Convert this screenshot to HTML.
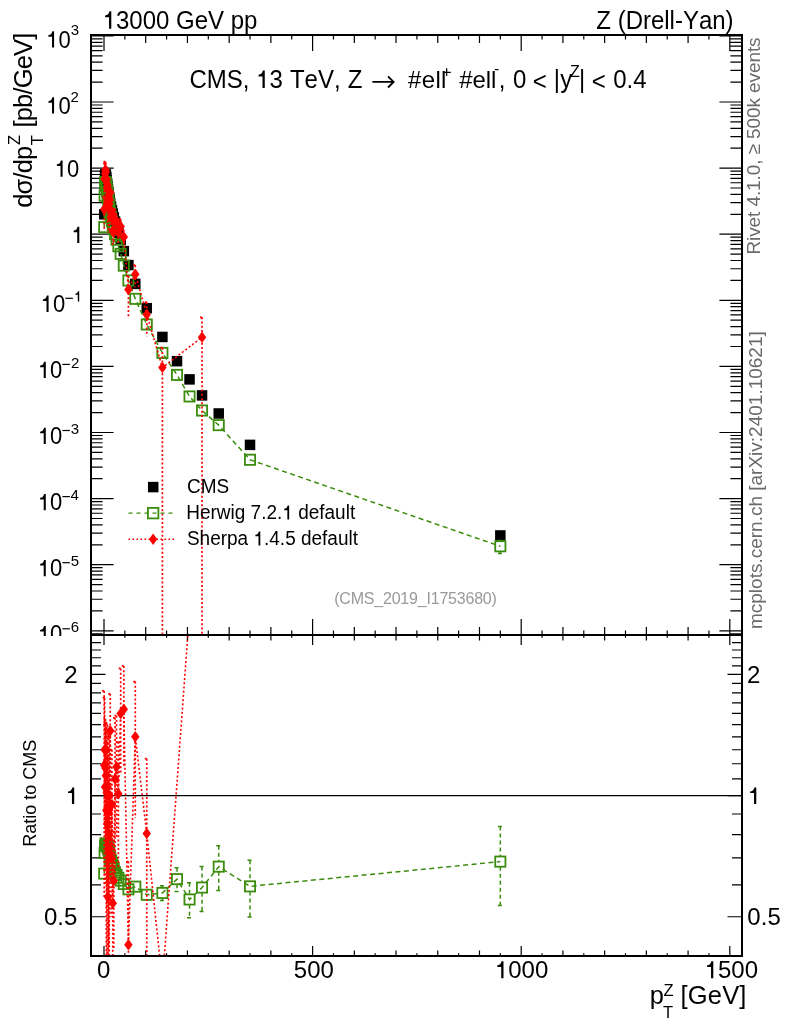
<!DOCTYPE html><html><head><meta charset="utf-8"><style>html,body{margin:0;padding:0;background:#fff;}svg{display:block;will-change:transform;} text{white-space:pre;font-kerning:none;font-feature-settings:"kern" 0;}</style></head><body>
<svg xml:space="preserve" width="786" height="1024" viewBox="0 0 786 1024" font-family="Liberation Sans, sans-serif">
<rect width="786" height="1024" fill="#fff"/>
<defs><clipPath id="cm"><rect x="91" y="34.9" width="651" height="600.1"/></clipPath>
<clipPath id="lab"><rect x="0" y="0" width="90" height="636"/></clipPath>
<clipPath id="cr"><rect x="91" y="635" width="651" height="320.95"/></clipPath></defs>
<path d="M91 633.82h11.6M742 633.82h-11.6M91 630.8h22.6M742 630.8h-22.6M91 610.9h11.6M742 610.9h-11.6M91 599.26h11.6M742 599.26h-11.6M91 591h11.6M742 591h-11.6M91 584.6h11.6M742 584.6h-11.6M91 579.36h11.6M742 579.36h-11.6M91 574.94h11.6M742 574.94h-11.6M91 571.11h11.6M742 571.11h-11.6M91 567.72h11.6M742 567.72h-11.6M91 564.7h22.6M742 564.7h-22.6M91 544.8h11.6M742 544.8h-11.6M91 533.16h11.6M742 533.16h-11.6M91 524.9h11.6M742 524.9h-11.6M91 518.5h11.6M742 518.5h-11.6M91 513.26h11.6M742 513.26h-11.6M91 508.84h11.6M742 508.84h-11.6M91 505.01h11.6M742 505.01h-11.6M91 501.62h11.6M742 501.62h-11.6M91 498.6h22.6M742 498.6h-22.6M91 478.7h11.6M742 478.7h-11.6M91 467.06h11.6M742 467.06h-11.6M91 458.8h11.6M742 458.8h-11.6M91 452.4h11.6M742 452.4h-11.6M91 447.16h11.6M742 447.16h-11.6M91 442.74h11.6M742 442.74h-11.6M91 438.91h11.6M742 438.91h-11.6M91 435.52h11.6M742 435.52h-11.6M91 432.5h22.6M742 432.5h-22.6M91 412.6h11.6M742 412.6h-11.6M91 400.96h11.6M742 400.96h-11.6M91 392.7h11.6M742 392.7h-11.6M91 386.3h11.6M742 386.3h-11.6M91 381.06h11.6M742 381.06h-11.6M91 376.64h11.6M742 376.64h-11.6M91 372.81h11.6M742 372.81h-11.6M91 369.42h11.6M742 369.42h-11.6M91 366.4h22.6M742 366.4h-22.6M91 346.5h11.6M742 346.5h-11.6M91 334.86h11.6M742 334.86h-11.6M91 326.6h11.6M742 326.6h-11.6M91 320.2h11.6M742 320.2h-11.6M91 314.96h11.6M742 314.96h-11.6M91 310.54h11.6M742 310.54h-11.6M91 306.71h11.6M742 306.71h-11.6M91 303.32h11.6M742 303.32h-11.6M91 300.3h22.6M742 300.3h-22.6M91 280.4h11.6M742 280.4h-11.6M91 268.76h11.6M742 268.76h-11.6M91 260.5h11.6M742 260.5h-11.6M91 254.1h11.6M742 254.1h-11.6M91 248.86h11.6M742 248.86h-11.6M91 244.44h11.6M742 244.44h-11.6M91 240.61h11.6M742 240.61h-11.6M91 237.22h11.6M742 237.22h-11.6M91 234.2h22.6M742 234.2h-22.6M91 214.3h11.6M742 214.3h-11.6M91 202.66h11.6M742 202.66h-11.6M91 194.4h11.6M742 194.4h-11.6M91 188h11.6M742 188h-11.6M91 182.76h11.6M742 182.76h-11.6M91 178.34h11.6M742 178.34h-11.6M91 174.51h11.6M742 174.51h-11.6M91 171.12h11.6M742 171.12h-11.6M91 168.1h22.6M742 168.1h-22.6M91 148.2h11.6M742 148.2h-11.6M91 136.56h11.6M742 136.56h-11.6M91 128.3h11.6M742 128.3h-11.6M91 121.9h11.6M742 121.9h-11.6M91 116.66h11.6M742 116.66h-11.6M91 112.24h11.6M742 112.24h-11.6M91 108.41h11.6M742 108.41h-11.6M91 105.02h11.6M742 105.02h-11.6M91 102h22.6M742 102h-22.6M91 82.1h11.6M742 82.1h-11.6M91 70.46h11.6M742 70.46h-11.6M91 62.2h11.6M742 62.2h-11.6M91 55.8h11.6M742 55.8h-11.6M91 50.56h11.6M742 50.56h-11.6M91 46.14h11.6M742 46.14h-11.6M91 42.31h11.6M742 42.31h-11.6M91 38.92h11.6M742 38.92h-11.6M91 35.9h22.6M742 35.9h-22.6M91 955.77h10M742 955.77h-10M91 916.76h14.5M742 916.76h-14.5M91 884.89h10M742 884.89h-10M91 857.95h10M742 857.95h-10M91 834.61h10M742 834.61h-10M91 814.02h10M742 814.02h-10M91 795.6h14.5M742 795.6h-14.5M91 778.94h10M742 778.94h-10M91 763.73h10M742 763.73h-10M91 749.74h10M742 749.74h-10M91 736.78h10M742 736.78h-10M91 724.72h10M742 724.72h-10M91 713.44h10M742 713.44h-10M91 702.84h10M742 702.84h-10M91 692.85h10M742 692.85h-10M91 683.4h10M742 683.4h-10M91 674.44h14.5M742 674.44h-14.5M91 665.91h10M742 665.91h-10M91 657.77h10M742 657.77h-10M91 650h10M742 650h-10M91 642.56h10M742 642.56h-10M91 635.43h10M742 635.43h-10M104 34.9v16M104 635v-16M104 635v10M104 955.95v-10M124.86 34.9v4.5M124.86 635v-4.5M124.86 635v2.8M124.86 955.95v-2.8M145.72 34.9v8M145.72 635v-8M145.72 635v5.5M145.72 955.95v-5.5M166.58 34.9v4.5M166.58 635v-4.5M166.58 635v2.8M166.58 955.95v-2.8M187.44 34.9v8M187.44 635v-8M187.44 635v5.5M187.44 955.95v-5.5M208.3 34.9v4.5M208.3 635v-4.5M208.3 635v2.8M208.3 955.95v-2.8M229.16 34.9v8M229.16 635v-8M229.16 635v5.5M229.16 955.95v-5.5M250.02 34.9v4.5M250.02 635v-4.5M250.02 635v2.8M250.02 955.95v-2.8M270.88 34.9v8M270.88 635v-8M270.88 635v5.5M270.88 955.95v-5.5M291.74 34.9v4.5M291.74 635v-4.5M291.74 635v2.8M291.74 955.95v-2.8M312.6 34.9v16M312.6 635v-16M312.6 635v10M312.6 955.95v-10M333.46 34.9v4.5M333.46 635v-4.5M333.46 635v2.8M333.46 955.95v-2.8M354.32 34.9v8M354.32 635v-8M354.32 635v5.5M354.32 955.95v-5.5M375.18 34.9v4.5M375.18 635v-4.5M375.18 635v2.8M375.18 955.95v-2.8M396.04 34.9v8M396.04 635v-8M396.04 635v5.5M396.04 955.95v-5.5M416.9 34.9v4.5M416.9 635v-4.5M416.9 635v2.8M416.9 955.95v-2.8M437.76 34.9v8M437.76 635v-8M437.76 635v5.5M437.76 955.95v-5.5M458.62 34.9v4.5M458.62 635v-4.5M458.62 635v2.8M458.62 955.95v-2.8M479.48 34.9v8M479.48 635v-8M479.48 635v5.5M479.48 955.95v-5.5M500.34 34.9v4.5M500.34 635v-4.5M500.34 635v2.8M500.34 955.95v-2.8M521.2 34.9v16M521.2 635v-16M521.2 635v10M521.2 955.95v-10M542.06 34.9v4.5M542.06 635v-4.5M542.06 635v2.8M542.06 955.95v-2.8M562.92 34.9v8M562.92 635v-8M562.92 635v5.5M562.92 955.95v-5.5M583.78 34.9v4.5M583.78 635v-4.5M583.78 635v2.8M583.78 955.95v-2.8M604.64 34.9v8M604.64 635v-8M604.64 635v5.5M604.64 955.95v-5.5M625.5 34.9v4.5M625.5 635v-4.5M625.5 635v2.8M625.5 955.95v-2.8M646.36 34.9v8M646.36 635v-8M646.36 635v5.5M646.36 955.95v-5.5M667.22 34.9v4.5M667.22 635v-4.5M667.22 635v2.8M667.22 955.95v-2.8M688.08 34.9v8M688.08 635v-8M688.08 635v5.5M688.08 955.95v-5.5M708.94 34.9v4.5M708.94 635v-4.5M708.94 635v2.8M708.94 955.95v-2.8M729.8 34.9v16M729.8 635v-16M729.8 635v10M729.8 955.95v-10" stroke="#000" stroke-width="1.2" fill="none"/>
<g clip-path="url(#cm)">
<rect x="98.96" y="209.05" width="10.5" height="10.5" fill="#000"/>
<rect x="99.38" y="181.08" width="10.5" height="10.5" fill="#000"/>
<rect x="99.79" y="169.98" width="10.5" height="10.5" fill="#000"/>
<rect x="100.21" y="168.9" width="10.5" height="10.5" fill="#000"/>
<rect x="100.63" y="169.62" width="10.5" height="10.5" fill="#000"/>
<rect x="101.04" y="171.88" width="10.5" height="10.5" fill="#000"/>
<rect x="101.46" y="174.78" width="10.5" height="10.5" fill="#000"/>
<rect x="101.88" y="178" width="10.5" height="10.5" fill="#000"/>
<rect x="102.3" y="181.08" width="10.5" height="10.5" fill="#000"/>
<rect x="102.71" y="183.92" width="10.5" height="10.5" fill="#000"/>
<rect x="103.13" y="186.75" width="10.5" height="10.5" fill="#000"/>
<rect x="103.55" y="189.51" width="10.5" height="10.5" fill="#000"/>
<rect x="103.97" y="192.18" width="10.5" height="10.5" fill="#000"/>
<rect x="104.38" y="194.68" width="10.5" height="10.5" fill="#000"/>
<rect x="105.01" y="197.89" width="10.5" height="10.5" fill="#000"/>
<rect x="105.84" y="201.52" width="10.5" height="10.5" fill="#000"/>
<rect x="106.68" y="205.04" width="10.5" height="10.5" fill="#000"/>
<rect x="107.51" y="208.34" width="10.5" height="10.5" fill="#000"/>
<rect x="108.55" y="212.08" width="10.5" height="10.5" fill="#000"/>
<rect x="109.81" y="216.37" width="10.5" height="10.5" fill="#000"/>
<rect x="111.27" y="221.42" width="10.5" height="10.5" fill="#000"/>
<rect x="113.14" y="227.55" width="10.5" height="10.5" fill="#000"/>
<rect x="115.44" y="234.65" width="10.5" height="10.5" fill="#000"/>
<rect x="118.57" y="245.85" width="10.5" height="10.5" fill="#000"/>
<rect x="123.16" y="259.83" width="10.5" height="10.5" fill="#000"/>
<rect x="130.04" y="278.66" width="10.5" height="10.5" fill="#000"/>
<rect x="141.51" y="302.93" width="10.5" height="10.5" fill="#000"/>
<rect x="157.16" y="331.7" width="10.5" height="10.5" fill="#000"/>
<rect x="171.76" y="355.92" width="10.5" height="10.5" fill="#000"/>
<rect x="184.28" y="374.14" width="10.5" height="10.5" fill="#000"/>
<rect x="196.79" y="390.16" width="10.5" height="10.5" fill="#000"/>
<rect x="213.48" y="408.23" width="10.5" height="10.5" fill="#000"/>
<rect x="244.77" y="439.62" width="10.5" height="10.5" fill="#000"/>
<rect x="495.09" y="530.2" width="10.5" height="10.5" fill="#000"/>
<polyline points="104.21,227.11 104.63,195.76 105.04,183.49 105.46,182.03 105.88,182.75 106.29,185.2 106.71,188.29 107.13,191.51 107.55,194.78 107.96,197.81 108.38,200.83 108.8,203.8 109.22,206.86 109.63,209.76 110.26,213.38 111.09,217.42 111.93,221.36 112.76,225.09 113.8,229.25 115.06,234.21 116.52,239.71 118.39,246.29 120.69,253.85 123.82,265.62 128.41,280.48 135.29,298.86 146.76,324.47 162.41,352.93 177.01,374.89 189.53,396.45 202.04,410.51 218.73,425.14 250.02,459.77 500.34,546.29" fill="none" stroke="#3a8c0c" stroke-width="1.5" stroke-dasharray="5,3.5"/>
<path d="M500.34 540.53V541.09M500.34 551.49V553.52M497.84 540.53h5M497.84 553.52h5" stroke="#3a8c0c" stroke-width="1.5" stroke-dasharray="4,3" fill="none"/>
<rect x="99.11" y="222.01" width="10.2" height="10.2" fill="none" stroke="#3a8c0c" stroke-width="1.8"/>
<rect x="99.53" y="190.66" width="10.2" height="10.2" fill="none" stroke="#3a8c0c" stroke-width="1.8"/>
<rect x="99.94" y="178.39" width="10.2" height="10.2" fill="none" stroke="#3a8c0c" stroke-width="1.8"/>
<rect x="100.36" y="176.93" width="10.2" height="10.2" fill="none" stroke="#3a8c0c" stroke-width="1.8"/>
<rect x="100.78" y="177.65" width="10.2" height="10.2" fill="none" stroke="#3a8c0c" stroke-width="1.8"/>
<rect x="101.19" y="180.1" width="10.2" height="10.2" fill="none" stroke="#3a8c0c" stroke-width="1.8"/>
<rect x="101.61" y="183.19" width="10.2" height="10.2" fill="none" stroke="#3a8c0c" stroke-width="1.8"/>
<rect x="102.03" y="186.41" width="10.2" height="10.2" fill="none" stroke="#3a8c0c" stroke-width="1.8"/>
<rect x="102.45" y="189.68" width="10.2" height="10.2" fill="none" stroke="#3a8c0c" stroke-width="1.8"/>
<rect x="102.86" y="192.71" width="10.2" height="10.2" fill="none" stroke="#3a8c0c" stroke-width="1.8"/>
<rect x="103.28" y="195.73" width="10.2" height="10.2" fill="none" stroke="#3a8c0c" stroke-width="1.8"/>
<rect x="103.7" y="198.7" width="10.2" height="10.2" fill="none" stroke="#3a8c0c" stroke-width="1.8"/>
<rect x="104.12" y="201.76" width="10.2" height="10.2" fill="none" stroke="#3a8c0c" stroke-width="1.8"/>
<rect x="104.53" y="204.66" width="10.2" height="10.2" fill="none" stroke="#3a8c0c" stroke-width="1.8"/>
<rect x="105.16" y="208.28" width="10.2" height="10.2" fill="none" stroke="#3a8c0c" stroke-width="1.8"/>
<rect x="105.99" y="212.32" width="10.2" height="10.2" fill="none" stroke="#3a8c0c" stroke-width="1.8"/>
<rect x="106.83" y="216.26" width="10.2" height="10.2" fill="none" stroke="#3a8c0c" stroke-width="1.8"/>
<rect x="107.66" y="219.99" width="10.2" height="10.2" fill="none" stroke="#3a8c0c" stroke-width="1.8"/>
<rect x="108.7" y="224.15" width="10.2" height="10.2" fill="none" stroke="#3a8c0c" stroke-width="1.8"/>
<rect x="109.96" y="229.11" width="10.2" height="10.2" fill="none" stroke="#3a8c0c" stroke-width="1.8"/>
<rect x="111.42" y="234.61" width="10.2" height="10.2" fill="none" stroke="#3a8c0c" stroke-width="1.8"/>
<rect x="113.29" y="241.19" width="10.2" height="10.2" fill="none" stroke="#3a8c0c" stroke-width="1.8"/>
<rect x="115.59" y="248.75" width="10.2" height="10.2" fill="none" stroke="#3a8c0c" stroke-width="1.8"/>
<rect x="118.72" y="260.52" width="10.2" height="10.2" fill="none" stroke="#3a8c0c" stroke-width="1.8"/>
<rect x="123.31" y="275.38" width="10.2" height="10.2" fill="none" stroke="#3a8c0c" stroke-width="1.8"/>
<rect x="130.19" y="293.76" width="10.2" height="10.2" fill="none" stroke="#3a8c0c" stroke-width="1.8"/>
<rect x="141.66" y="319.37" width="10.2" height="10.2" fill="none" stroke="#3a8c0c" stroke-width="1.8"/>
<rect x="157.31" y="347.83" width="10.2" height="10.2" fill="none" stroke="#3a8c0c" stroke-width="1.8"/>
<rect x="171.91" y="369.79" width="10.2" height="10.2" fill="none" stroke="#3a8c0c" stroke-width="1.8"/>
<rect x="184.43" y="391.35" width="10.2" height="10.2" fill="none" stroke="#3a8c0c" stroke-width="1.8"/>
<rect x="196.94" y="405.41" width="10.2" height="10.2" fill="none" stroke="#3a8c0c" stroke-width="1.8"/>
<rect x="213.63" y="420.04" width="10.2" height="10.2" fill="none" stroke="#3a8c0c" stroke-width="1.8"/>
<rect x="244.92" y="454.67" width="10.2" height="10.2" fill="none" stroke="#3a8c0c" stroke-width="1.8"/>
<rect x="495.24" y="541.19" width="10.2" height="10.2" fill="none" stroke="#3a8c0c" stroke-width="1.8"/>
<polyline points="104.21,209.31 104.63,178.79 105.04,173.83 105.46,169.64 105.88,171.61 106.29,179.53 106.71,179.46 107.13,187.91 107.55,184.92 107.96,205.81 108.38,200.64 108.8,197.16 109.22,203.83 109.63,199.93 110.26,192.48 111.09,217.01 111.93,211.76 112.76,231.28 113.8,231.28 115.06,218.88 116.52,221.92 118.39,232.51 120.69,226.4 123.82,236.9 128.41,289.58 135.29,274.25 146.76,314.41 162.41,367.58 202.04,337.19" fill="none" stroke="#ff0000" stroke-width="1.6" stroke-dasharray="2,2.25"/>
<path d="M104.21 197.11V230.95M102.21 197.11h4M104.63 170.26V190.99M102.63 170.26h4M105.04 163.59V189.9M103.04 163.59h4M105.46 161.57V180.92M103.46 161.57h4M105.88 162.85V184.3M103.88 162.85h4M106.29 166.07V205.68M104.29 166.07h4M106.71 168.01V198.8M104.71 168.01h4M107.13 174.63V213.38M105.13 174.63h4M107.55 174.69V200.99M105.55 174.69h4M107.96 195.22V222.79M105.96 195.22h4M108.38 185.82V232.96M106.38 185.82h4M108.8 184.7V219.67M106.8 184.7h4M109.22 189.9V231.99M107.22 189.9h4M109.63 190.27V214.59M107.63 190.27h4M110.26 186.43V200.15M108.26 186.43h4M111.09 209.79V226.67M109.09 209.79h4M111.93 202.76V224.95M109.93 202.76h4M112.76 221.47V246.3M110.76 221.47h4M113.8 223.2V242.57M111.8 223.2h4M115.06 208.85V234.43M113.06 208.85h4M116.52 213.54V233.8M114.52 213.54h4M118.39 223.97V244.73M116.39 223.97h4M120.69 219.01V236.39M118.69 219.01h4M123.82 229.8V246.35M121.82 229.8h4M128.41 275.9V316.64M126.41 275.9h4M135.29 265.18V287.58M133.29 265.18h4M146.76 302.12V336.33M144.76 302.12h4M162.41 347.68V640M160.41 347.68h4M202.04 317.29V640M200.04 317.29h4" stroke="#ff0000" stroke-width="1.7" stroke-dasharray="2,2.25" fill="none"/>
<path d="M104.21 203.56L108.41 209.31L104.21 215.06L100.01 209.31Z" fill="#ff0000"/>
<path d="M104.63 173.04L108.83 178.79L104.63 184.54L100.43 178.79Z" fill="#ff0000"/>
<path d="M105.04 168.08L109.24 173.83L105.04 179.58L100.84 173.83Z" fill="#ff0000"/>
<path d="M105.46 163.89L109.66 169.64L105.46 175.39L101.26 169.64Z" fill="#ff0000"/>
<path d="M105.88 165.86L110.08 171.61L105.88 177.36L101.68 171.61Z" fill="#ff0000"/>
<path d="M106.29 173.78L110.49 179.53L106.29 185.28L102.09 179.53Z" fill="#ff0000"/>
<path d="M106.71 173.71L110.91 179.46L106.71 185.21L102.51 179.46Z" fill="#ff0000"/>
<path d="M107.13 182.16L111.33 187.91L107.13 193.66L102.93 187.91Z" fill="#ff0000"/>
<path d="M107.55 179.17L111.75 184.92L107.55 190.67L103.35 184.92Z" fill="#ff0000"/>
<path d="M107.96 200.06L112.16 205.81L107.96 211.56L103.76 205.81Z" fill="#ff0000"/>
<path d="M108.38 194.89L112.58 200.64L108.38 206.39L104.18 200.64Z" fill="#ff0000"/>
<path d="M108.8 191.41L113 197.16L108.8 202.91L104.6 197.16Z" fill="#ff0000"/>
<path d="M109.22 198.08L113.42 203.83L109.22 209.58L105.02 203.83Z" fill="#ff0000"/>
<path d="M109.63 194.18L113.83 199.93L109.63 205.68L105.43 199.93Z" fill="#ff0000"/>
<path d="M110.26 186.73L114.46 192.48L110.26 198.23L106.06 192.48Z" fill="#ff0000"/>
<path d="M111.09 211.26L115.29 217.01L111.09 222.76L106.89 217.01Z" fill="#ff0000"/>
<path d="M111.93 206.01L116.13 211.76L111.93 217.51L107.73 211.76Z" fill="#ff0000"/>
<path d="M112.76 225.53L116.96 231.28L112.76 237.03L108.56 231.28Z" fill="#ff0000"/>
<path d="M113.8 225.53L118 231.28L113.8 237.03L109.6 231.28Z" fill="#ff0000"/>
<path d="M115.06 213.13L119.26 218.88L115.06 224.63L110.86 218.88Z" fill="#ff0000"/>
<path d="M116.52 216.17L120.72 221.92L116.52 227.67L112.32 221.92Z" fill="#ff0000"/>
<path d="M118.39 226.76L122.59 232.51L118.39 238.26L114.19 232.51Z" fill="#ff0000"/>
<path d="M120.69 220.65L124.89 226.4L120.69 232.15L116.49 226.4Z" fill="#ff0000"/>
<path d="M123.82 231.15L128.02 236.9L123.82 242.65L119.62 236.9Z" fill="#ff0000"/>
<path d="M128.41 283.83L132.61 289.58L128.41 295.33L124.21 289.58Z" fill="#ff0000"/>
<path d="M135.29 268.5L139.49 274.25L135.29 280L131.09 274.25Z" fill="#ff0000"/>
<path d="M146.76 308.66L150.96 314.41L146.76 320.16L142.56 314.41Z" fill="#ff0000"/>
<path d="M162.41 361.83L166.61 367.58L162.41 373.33L158.21 367.58Z" fill="#ff0000"/>
<path d="M202.04 331.44L206.24 337.19L202.04 342.94L197.84 337.19Z" fill="#ff0000"/>
</g>
<path d="M91 795.6H742" stroke="#000" stroke-width="1.3"/>
<g clip-path="url(#cr)">
<polyline points="104.21,873.61 104.63,853.02 105.04,845.89 105.46,843.57 105.88,843.57 106.29,844.73 106.71,845.89 107.13,845.89 107.55,847.06 107.96,848.23 108.38,849.42 108.8,850.61 109.22,853.02 109.63,855.47 110.26,857.95 111.09,860.46 111.93,863.02 112.76,865.6 113.8,868.23 115.06,872.25 116.52,874.98 118.39,877.76 120.69,880.58 123.82,884.02 128.41,889.32 135.29,886.65 146.76,894.78 162.41,892.94 177.01,879.16 189.53,899.47 202.04,887.54 218.73,866.65 250.02,886.36 500.34,861.61" fill="none" stroke="#3a8c0c" stroke-width="1.5" stroke-dasharray="5,3.5"/>
<path d="M162.41 885.77V887.74M162.41 898.14V900.42M159.91 885.77h5M159.91 900.42h5M177.01 867.7V873.96M177.01 884.36V891.42M174.51 867.7h5M174.51 891.42h5M189.53 882.87V894.27M189.53 904.67V917.82M187.03 882.87h5M187.03 917.82h5M202.04 866.52V882.34M202.04 892.74V911.43M199.54 866.52h5M199.54 911.43h5M218.73 845.65V861.45M218.73 871.85V890.52M216.23 845.65h5M216.23 890.52h5M250.02 860.34V881.16M250.02 891.56V916.94M247.52 860.34h5M247.52 916.94h5M500.34 826.49V856.41M500.34 866.81V905.59M497.84 826.49h5M497.84 905.59h5" stroke="#3a8c0c" stroke-width="1.5" stroke-dasharray="4,3" fill="none"/>
<rect x="99.11" y="868.51" width="10.2" height="10.2" fill="none" stroke="#3a8c0c" stroke-width="1.8"/>
<rect x="99.53" y="847.92" width="10.2" height="10.2" fill="none" stroke="#3a8c0c" stroke-width="1.8"/>
<rect x="99.94" y="840.79" width="10.2" height="10.2" fill="none" stroke="#3a8c0c" stroke-width="1.8"/>
<rect x="100.36" y="838.47" width="10.2" height="10.2" fill="none" stroke="#3a8c0c" stroke-width="1.8"/>
<rect x="100.78" y="838.47" width="10.2" height="10.2" fill="none" stroke="#3a8c0c" stroke-width="1.8"/>
<rect x="101.19" y="839.63" width="10.2" height="10.2" fill="none" stroke="#3a8c0c" stroke-width="1.8"/>
<rect x="101.61" y="840.79" width="10.2" height="10.2" fill="none" stroke="#3a8c0c" stroke-width="1.8"/>
<rect x="102.03" y="840.79" width="10.2" height="10.2" fill="none" stroke="#3a8c0c" stroke-width="1.8"/>
<rect x="102.45" y="841.96" width="10.2" height="10.2" fill="none" stroke="#3a8c0c" stroke-width="1.8"/>
<rect x="102.86" y="843.13" width="10.2" height="10.2" fill="none" stroke="#3a8c0c" stroke-width="1.8"/>
<rect x="103.28" y="844.32" width="10.2" height="10.2" fill="none" stroke="#3a8c0c" stroke-width="1.8"/>
<rect x="103.7" y="845.51" width="10.2" height="10.2" fill="none" stroke="#3a8c0c" stroke-width="1.8"/>
<rect x="104.12" y="847.92" width="10.2" height="10.2" fill="none" stroke="#3a8c0c" stroke-width="1.8"/>
<rect x="104.53" y="850.37" width="10.2" height="10.2" fill="none" stroke="#3a8c0c" stroke-width="1.8"/>
<rect x="105.16" y="852.85" width="10.2" height="10.2" fill="none" stroke="#3a8c0c" stroke-width="1.8"/>
<rect x="105.99" y="855.36" width="10.2" height="10.2" fill="none" stroke="#3a8c0c" stroke-width="1.8"/>
<rect x="106.83" y="857.92" width="10.2" height="10.2" fill="none" stroke="#3a8c0c" stroke-width="1.8"/>
<rect x="107.66" y="860.5" width="10.2" height="10.2" fill="none" stroke="#3a8c0c" stroke-width="1.8"/>
<rect x="108.7" y="863.13" width="10.2" height="10.2" fill="none" stroke="#3a8c0c" stroke-width="1.8"/>
<rect x="109.96" y="867.15" width="10.2" height="10.2" fill="none" stroke="#3a8c0c" stroke-width="1.8"/>
<rect x="111.42" y="869.88" width="10.2" height="10.2" fill="none" stroke="#3a8c0c" stroke-width="1.8"/>
<rect x="113.29" y="872.66" width="10.2" height="10.2" fill="none" stroke="#3a8c0c" stroke-width="1.8"/>
<rect x="115.59" y="875.48" width="10.2" height="10.2" fill="none" stroke="#3a8c0c" stroke-width="1.8"/>
<rect x="118.72" y="878.92" width="10.2" height="10.2" fill="none" stroke="#3a8c0c" stroke-width="1.8"/>
<rect x="123.31" y="884.22" width="10.2" height="10.2" fill="none" stroke="#3a8c0c" stroke-width="1.8"/>
<rect x="130.19" y="881.55" width="10.2" height="10.2" fill="none" stroke="#3a8c0c" stroke-width="1.8"/>
<rect x="141.66" y="889.68" width="10.2" height="10.2" fill="none" stroke="#3a8c0c" stroke-width="1.8"/>
<rect x="157.31" y="887.84" width="10.2" height="10.2" fill="none" stroke="#3a8c0c" stroke-width="1.8"/>
<rect x="171.91" y="874.06" width="10.2" height="10.2" fill="none" stroke="#3a8c0c" stroke-width="1.8"/>
<rect x="184.43" y="894.37" width="10.2" height="10.2" fill="none" stroke="#3a8c0c" stroke-width="1.8"/>
<rect x="196.94" y="882.44" width="10.2" height="10.2" fill="none" stroke="#3a8c0c" stroke-width="1.8"/>
<rect x="213.63" y="861.55" width="10.2" height="10.2" fill="none" stroke="#3a8c0c" stroke-width="1.8"/>
<rect x="244.92" y="881.26" width="10.2" height="10.2" fill="none" stroke="#3a8c0c" stroke-width="1.8"/>
<rect x="495.24" y="856.51" width="10.2" height="10.2" fill="none" stroke="#3a8c0c" stroke-width="1.8"/>
<polyline points="104.21,765.19 104.63,749.74 105.04,787.07 105.46,768.16 105.88,775.79 106.29,810.18 106.71,792.14 107.13,824.01 107.55,787.07 107.96,896.95 108.38,848.23 108.8,810.18 109.22,834.61 109.63,795.6 110.26,730.65 111.09,857.95 111.93,804.57 112.76,903.31 113.8,880.58 115.06,778.94 116.52,766.67 118.39,793.86 120.69,713.44 123.82,709.13 128.41,944.76 135.29,736.78 146.76,833.52 162.41,982.14 202.04,441.07" fill="none" stroke="#ff0000" stroke-width="1.6" stroke-dasharray="2,2.25"/>
<path d="M104.21 690.92V896.95M102.21 690.92h4M104.63 697.78V824.01M102.63 697.78h4M105.04 724.72V884.89M103.04 724.72h4M105.46 718.99V836.81M103.46 718.99h4M105.88 722.41V853.02M103.88 722.41h4M106.29 728.25V969.4M104.29 728.25h4M106.71 722.41V909.91M104.71 722.41h4M107.13 743.14V979.11M105.13 743.14h4M107.55 724.72V884.89M105.55 724.72h4M107.96 832.43V1000.33M105.96 832.43h4M108.38 758V1045.06M106.38 758h4M108.8 734.3V947.24M106.8 734.3h4M109.22 749.74V1006.06M107.22 749.74h4M109.63 736.78V884.89M107.63 736.78h4M110.26 693.83V777.36M108.26 693.83h4M111.09 814.02V916.76M109.09 814.02h4M111.93 749.74V884.89M109.93 749.74h4M112.76 843.57V994.78M110.76 843.57h4M113.8 831.36V949.34M111.8 831.36h4M115.06 717.87V873.61M113.06 717.87h4M116.52 715.64V839.03M114.52 715.64h4M118.39 741.85V868.23M116.39 741.85h4M120.69 668.42V774.24M118.69 668.42h4M123.82 665.91V766.67M121.82 665.91h4M128.41 861.48V1109.51M126.41 861.48h4M135.29 681.57V817.95M133.29 681.57h4M146.76 758.7V967.05M144.76 758.7h4" stroke="#ff0000" stroke-width="1.7" stroke-dasharray="2,2.25" fill="none"/>
<path d="M104.21 759.44L108.41 765.19L104.21 770.94L100.01 765.19Z" fill="#ff0000"/>
<path d="M104.63 743.99L108.83 749.74L104.63 755.49L100.43 749.74Z" fill="#ff0000"/>
<path d="M105.04 781.32L109.24 787.07L105.04 792.82L100.84 787.07Z" fill="#ff0000"/>
<path d="M105.46 762.41L109.66 768.16L105.46 773.91L101.26 768.16Z" fill="#ff0000"/>
<path d="M105.88 770.04L110.08 775.79L105.88 781.54L101.68 775.79Z" fill="#ff0000"/>
<path d="M106.29 804.43L110.49 810.18L106.29 815.93L102.09 810.18Z" fill="#ff0000"/>
<path d="M106.71 786.39L110.91 792.14L106.71 797.89L102.51 792.14Z" fill="#ff0000"/>
<path d="M107.13 818.26L111.33 824.01L107.13 829.76L102.93 824.01Z" fill="#ff0000"/>
<path d="M107.55 781.32L111.75 787.07L107.55 792.82L103.35 787.07Z" fill="#ff0000"/>
<path d="M107.96 891.2L112.16 896.95L107.96 902.7L103.76 896.95Z" fill="#ff0000"/>
<path d="M108.38 842.48L112.58 848.23L108.38 853.98L104.18 848.23Z" fill="#ff0000"/>
<path d="M108.8 804.43L113 810.18L108.8 815.93L104.6 810.18Z" fill="#ff0000"/>
<path d="M109.22 828.86L113.42 834.61L109.22 840.36L105.02 834.61Z" fill="#ff0000"/>
<path d="M109.63 789.85L113.83 795.6L109.63 801.35L105.43 795.6Z" fill="#ff0000"/>
<path d="M110.26 724.9L114.46 730.65L110.26 736.4L106.06 730.65Z" fill="#ff0000"/>
<path d="M111.09 852.2L115.29 857.95L111.09 863.7L106.89 857.95Z" fill="#ff0000"/>
<path d="M111.93 798.82L116.13 804.57L111.93 810.32L107.73 804.57Z" fill="#ff0000"/>
<path d="M112.76 897.56L116.96 903.31L112.76 909.06L108.56 903.31Z" fill="#ff0000"/>
<path d="M113.8 874.83L118 880.58L113.8 886.33L109.6 880.58Z" fill="#ff0000"/>
<path d="M115.06 773.19L119.26 778.94L115.06 784.69L110.86 778.94Z" fill="#ff0000"/>
<path d="M116.52 760.92L120.72 766.67L116.52 772.42L112.32 766.67Z" fill="#ff0000"/>
<path d="M118.39 788.11L122.59 793.86L118.39 799.61L114.19 793.86Z" fill="#ff0000"/>
<path d="M120.69 707.69L124.89 713.44L120.69 719.19L116.49 713.44Z" fill="#ff0000"/>
<path d="M123.82 703.38L128.02 709.13L123.82 714.88L119.62 709.13Z" fill="#ff0000"/>
<path d="M128.41 939.01L132.61 944.76L128.41 950.51L124.21 944.76Z" fill="#ff0000"/>
<path d="M135.29 731.03L139.49 736.78L135.29 742.53L131.09 736.78Z" fill="#ff0000"/>
<path d="M146.76 827.77L150.96 833.52L146.76 839.27L142.56 833.52Z" fill="#ff0000"/>
<path d="M162.41 976.39L166.61 982.14L162.41 987.89L158.21 982.14Z" fill="#ff0000"/>
<path d="M202.04 435.32L206.24 441.07L202.04 446.82L197.84 441.07Z" fill="#ff0000"/>
</g>
<path d="M91 34.9V955.95 M742 34.9V955.95 M91 34.9H742 M91 635H742 M91 955.95H742" stroke="#000" stroke-width="2" fill="none" stroke-linecap="square"/>
<g transform="matrix(1,0,0,1.06,0,-1.1852)"><path d="M359 0L359 688L282 688C246 570 199 532 101 523L101 456L265 456L265 0Z" transform="matrix(0.024,0,0,-0.024,102.676,28.25)"/><text x="116.0237" y="28.25" font-size="24">3000 GeV pp</text></g>
<text x="596.34" y="28.15" font-size="24" transform="matrix(1,0,0,1.06,0,-1.1792)">Z (Drell-Yan)</text>
<g clip-path="url(#lab)">
<g transform="matrix(1,0,0,1.08,0,-50.721)"><path d="M359 0L359 688L282 688C246 570 199 532 101 523L101 456L265 456L265 0Z" transform="matrix(0.022,0,0,-0.022,37.8887,641.8)"/><text x="50.124" y="641.8" font-size="22">0</text></g><path d="M62.4 628.8h7.5" stroke="#000" stroke-width="1.2"/><text x="70.82" y="632" font-size="15">6</text>
<g transform="matrix(1,0,0,1.08,0,-45.433)"><path d="M359 0L359 688L282 688C246 570 199 532 101 523L101 456L265 456L265 0Z" transform="matrix(0.022,0,0,-0.022,37.8887,575.7)"/><text x="50.124" y="575.7" font-size="22">0</text></g><path d="M62.4 562.7h7.5" stroke="#000" stroke-width="1.2"/><text x="70.79" y="565.9" font-size="15">5</text>
<g transform="matrix(1,0,0,1.08,0,-40.145)"><path d="M359 0L359 688L282 688C246 570 199 532 101 523L101 456L265 456L265 0Z" transform="matrix(0.022,0,0,-0.022,37.8887,509.6)"/><text x="50.124" y="509.6" font-size="22">0</text></g><path d="M62.4 496.6h7.5" stroke="#000" stroke-width="1.2"/><text x="70.6" y="499.8" font-size="15">4</text>
<g transform="matrix(1,0,0,1.08,0,-34.857)"><path d="M359 0L359 688L282 688C246 570 199 532 101 523L101 456L265 456L265 0Z" transform="matrix(0.022,0,0,-0.022,37.8887,443.5)"/><text x="50.124" y="443.5" font-size="22">0</text></g><path d="M62.4 430.5h7.5" stroke="#000" stroke-width="1.2"/><text x="70.82" y="433.7" font-size="15">3</text>
<g transform="matrix(1,0,0,1.08,0,-29.569)"><path d="M359 0L359 688L282 688C246 570 199 532 101 523L101 456L265 456L265 0Z" transform="matrix(0.022,0,0,-0.022,37.8887,377.4)"/><text x="50.124" y="377.4" font-size="22">0</text></g><path d="M62.4 364.4h7.5" stroke="#000" stroke-width="1.2"/><text x="70.91" y="367.6" font-size="15">2</text>
<g transform="matrix(1,0,0,1.08,0,-24.281)"><path d="M359 0L359 688L282 688C246 570 199 532 101 523L101 456L265 456L265 0Z" transform="matrix(0.022,0,0,-0.022,40.6887,311.3)"/><text x="52.924" y="311.3" font-size="22">0</text></g><path d="M65.4 298.3h7.5" stroke="#000" stroke-width="1.2"/><g><path d="M359 0L359 688L282 688C246 570 199 532 101 523L101 456L265 456L265 0Z" transform="matrix(0.015,0,0,-0.015,73.815,301.5)"/></g>
<g transform="matrix(1,0,0,1.08,0,-18.769)"><path d="M359 0L359 688L282 688C246 570 199 532 101 523L101 456L265 456L265 0Z" transform="matrix(0.022,0,0,-0.022,71.402,242.4)"/></g>
<g transform="matrix(1,0,0,1.08,0,-13.465)"><path d="M359 0L359 688L282 688C246 570 199 532 101 523L101 456L265 456L265 0Z" transform="matrix(0.022,0,0,-0.022,54.6887,176.1)"/><text x="66.924" y="176.1" font-size="22">0</text></g>
<g transform="matrix(1,0,0,1.08,0,-8.417)"><path d="M359 0L359 688L282 688C246 570 199 532 101 523L101 456L265 456L265 0Z" transform="matrix(0.022,0,0,-0.022,46.1887,113)"/><text x="58.424" y="113" font-size="22">0</text></g><text x="70.45" y="101.5" font-size="15">2</text>
<g transform="matrix(1,0,0,1.08,0,-3.129)"><path d="M359 0L359 688L282 688C246 570 199 532 101 523L101 456L265 456L265 0Z" transform="matrix(0.022,0,0,-0.022,46.1887,46.9)"/><text x="58.424" y="46.9" font-size="22">0</text></g><text x="70.63" y="35.4" font-size="15">3</text>
</g>
<text x="64.16" y="682.84" font-size="24">2</text>
<text x="747.09" y="682.84" font-size="24">2</text>
<g><path d="M359 0L359 688L282 688C246 570 199 532 101 523L101 456L265 456L265 0Z" transform="matrix(0.024,0,0,-0.024,65.584,804)"/></g>
<g><path d="M359 0L359 688L282 688C246 570 199 532 101 523L101 456L265 456L265 0Z" transform="matrix(0.024,0,0,-0.024,747.676,804)"/></g>
<text x="43.94" y="925.16" font-size="24">0.5</text>
<text x="747.36" y="925.16" font-size="24">0.5</text>
<text x="96.96" y="978" font-size="24" transform="matrix(1,0,0,1.03,0,-29.0851)">0</text>
<text x="293.84" y="978" font-size="24" transform="matrix(1,0,0,1.03,0,-29.0851)">500</text>
<g transform="matrix(1,0,0,1.03,0,-29.0851)"><path d="M359 0L359 688L282 688C246 570 199 532 101 523L101 456L265 456L265 0Z" transform="matrix(0.024,0,0,-0.024,494.876,978)"/><text x="508.2237" y="978" font-size="24">000</text></g>
<g transform="matrix(1,0,0,1.03,0,-29.0851)"><path d="M359 0L359 688L282 688C246 570 199 532 101 523L101 456L265 456L265 0Z" transform="matrix(0.024,0,0,-0.024,704.676,978)"/><text x="718.0237" y="978" font-size="24">500</text></g>
<text x="649.66" y="1003.7" font-size="25.5">p</text>
<text x="663.58" y="995.6" font-size="16.5">Z</text>
<text x="662.93" y="1017.7" font-size="16.5">T</text>
<text x="680.58" y="1003.7" font-size="25.5" textLength="65.87" lengthAdjust="spacing">[GeV]</text>
<g transform="translate(31.6,206.8) rotate(-90)"><text x="-1.07" y="0" font-size="25.5" textLength="62.08" lengthAdjust="spacing">dσ/dp</text><text x="61.78" y="-11.6" font-size="16.5">Z</text><text x="61.53" y="11.2" font-size="16.5">T</text><text x="79.28" y="0" font-size="25.5" textLength="94.81" lengthAdjust="spacing">[pb/GeV]</text></g>
<g transform="translate(35.8,845.3) rotate(-90)"><text x="-1.48" y="0" font-size="18">Ratio to CMS</text></g>
<g transform="translate(760.3,253.0) rotate(-90)"><text x="-1.56" y="0" font-size="19" fill="#6a6a6a" textLength="217.15" lengthAdjust="spacing">Rivet 4.1.0, ≥ 500k events</text></g>
<g transform="translate(761.8,627.8) rotate(-90)"><text x="-1.26" y="0" font-size="19" fill="#6a6a6a">mcplots.cern.ch [arXiv:2401.10621]</text></g>
<g transform="matrix(1,0,0,1.06,0,-4.7462)"><text x="189.4812" y="87.6" font-size="24">CMS, </text><path d="M359 0L359 688L282 688C246 570 199 532 101 523L101 456L265 456L265 0Z" transform="matrix(0.024,0,0,-0.024,256.1492,87.6)"/><text x="269.4969" y="87.6" font-size="24">3</text></g>
<text x="289.96" y="87.6" font-size="24" transform="matrix(1,0,0,1.06,0,-4.7462)">TeV,</text>
<text x="347.74" y="87.6" font-size="24" transform="matrix(1,0,0,1.06,0,-4.7462)">Z</text>
<path d="M372.4 81.9H392.5M388 76.3L393.6 81.9L388 87.5" stroke="#000" stroke-width="1.9" fill="none"/>
<text x="408.09" y="87.7" font-size="24" textLength="38.36" lengthAdjust="spacing">#ell</text>
<path d="M443.4 72.3h7.4M446.65 68.3v7.8" stroke="#000" stroke-width="1.25"/>
<text x="459.29" y="87.7" font-size="24" textLength="37.03" lengthAdjust="spacing">#ell</text>
<path d="M494.9 69.6h3.6" stroke="#000" stroke-width="1.2"/>
<text x="498.74" y="87.6" font-size="24" transform="matrix(1,0,0,1.06,0,-4.7462)">,</text>
<text x="513.06" y="87.6" font-size="24" transform="matrix(1,0,0,1.06,0,-4.7462)">0</text>
<text x="532.72" y="89.9" font-size="24" transform="matrix(1,0,0,1.06,0,-4.8842)">&lt;</text>
<text x="553.86" y="87.6" font-size="24" transform="matrix(1,0,0,1.06,0,-4.7462)">|</text>
<text x="560.34" y="87.6" font-size="24" transform="matrix(1,0,0,1.06,0,-4.7462)">y</text>
<text x="569.89" y="76.8" font-size="16">Z</text>
<text x="579.06" y="87.6" font-size="24" transform="matrix(1,0,0,1.06,0,-4.7462)">|</text>
<text x="591.72" y="89.9" font-size="24" transform="matrix(1,0,0,1.06,0,-4.8842)">&lt;</text>
<text x="613.16" y="87.6" font-size="24" transform="matrix(1,0,0,1.06,0,-4.7462)">0.4</text>
<rect x="147.95" y="481.85" width="10.5" height="10.5" fill="#000"/>
<path d="M128.5 513.2H176" stroke="#3a8c0c" stroke-width="1.2" stroke-dasharray="4,4"/>
<rect x="147.9" y="507.9" width="10.5" height="10.5" fill="none" stroke="#3a8c0c" stroke-width="1.8"/>
<path d="M128.5 539.2H176.5" stroke="#ff0000" stroke-width="1.5" stroke-dasharray="1.6,2.4"/>
<path d="M153.1 533.45L157.3 539.2L153.1 544.95L148.9 539.2Z" fill="#ff0000"/>
<text x="187.04" y="493" font-size="19" transform="matrix(1,0,0,1.06,0,-29.1764)">CMS</text>
<g transform="matrix(1,0,0,1.06,0,-30.7364)"><text x="186.2414" y="519" font-size="19">Herwig 7.2.</text><path d="M359 0L359 688L282 688C246 570 199 532 101 523L101 456L265 456L265 0Z" transform="matrix(0.019,0,0,-0.019,282.3361,519)"/><text x="292.903" y="519" font-size="19"> default</text></g>
<g transform="matrix(1,0,0,1.06,0,-32.2964)"><text x="186.9372" y="545" font-size="19">Sherpa </text><path d="M359 0L359 688L282 688C246 570 199 532 101 523L101 456L265 456L265 0Z" transform="matrix(0.019,0,0,-0.019,253.4836,545)"/><text x="264.0505" y="545" font-size="19">.4.5 default</text></g>
<text x="334.21" y="604" font-size="16" fill="#999" textLength="162.69" lengthAdjust="spacing" transform="matrix(1,0,0,1.06,0,-35.9002)">(CMS_2019_I1753680)</text>
</svg></body></html>
